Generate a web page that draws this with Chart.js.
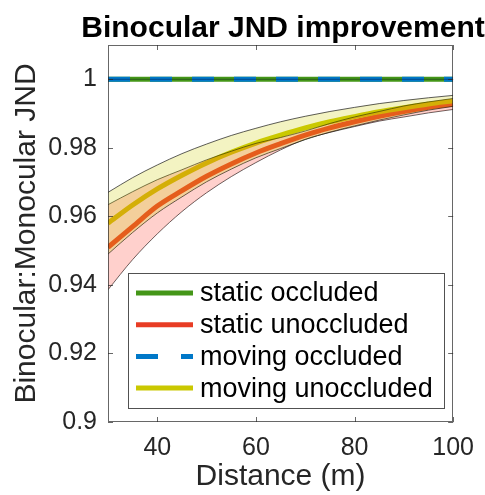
<!DOCTYPE html>
<html>
<head>
<meta charset="utf-8">
<script src="https://cdn.jsdelivr.net/npm/chart.js@4/dist/chart.umd.min.js"></script>
<style>
  html, body { margin: 0; padding: 0; background: #fff; }
  #wrap { width: 485px; height: 495px; }
</style>
</head>
<body>
<div id="wrap"><canvas id="c" width="485" height="495"></canvas></div>
<script>
// ---- data ----
const distances = [30, 35, 40, 45, 50, 55, 60, 65, 70, 75, 80, 85, 90, 95, 100];
const staticUnoccMean  = [0.951, 0.957, 0.963, 0.9675, 0.9717, 0.9753, 0.9785, 0.9812, 0.9837, 0.9858, 0.9876, 0.9892, 0.9906, 0.9918, 0.9928];
const staticUnoccLower = [0.9386, 0.9474, 0.9549, 0.9614, 0.9669, 0.9716, 0.9757, 0.9794, 0.9825, 0.9845, 0.9862, 0.9878, 0.989, 0.9902, 0.9912];
const staticUnoccUpper = [0.9634, 0.9672, 0.9707, 0.9736, 0.9765, 0.979, 0.9813, 0.983, 0.9849, 0.9871, 0.989, 0.9906, 0.9922, 0.9934, 0.9944];
const movingUnoccMean  = [0.958, 0.9633, 0.968, 0.972, 0.9756, 0.9787, 0.9814, 0.9837, 0.9858, 0.9876, 0.9891, 0.9905, 0.9917, 0.9928, 0.9937];
const movingUnoccLower = [0.949, 0.9553, 0.961, 0.9657, 0.9701, 0.9738, 0.9771, 0.9798, 0.9824, 0.9846, 0.9864, 0.9881, 0.9896, 0.991, 0.9921];
const movingUnoccUpper = [0.967, 0.9713, 0.975, 0.9783, 0.9811, 0.9836, 0.9857, 0.9876, 0.9892, 0.9906, 0.9918, 0.9929, 0.9938, 0.9946, 0.9953];
const staticOccluded   = [1, 1, 1, 1, 1, 1, 1, 1, 1, 1, 1, 1, 1, 1, 1];
const movingOccluded   = [1, 1, 1, 1, 1, 1, 1, 1, 1, 1, 1, 1, 1, 1, 1];
const seriesNames = ['static occluded', 'static unoccluded', 'moving occluded', 'moving unoccluded'];
const xTicks = [40, 60, 80, 100];
const yTicks = [0.9, 0.92, 0.94, 0.96, 0.98, 1];
const titleText = 'Binocular JND improvement';
const xTitle = 'Distance (m)';
const yTitle = 'Binocular:Monocular JND';

// ---- styles ----
const GREEN = 'rgb(68,150,24)';
const RED = 'rgb(232,60,36)';
const BLUE = 'rgb(0,120,200)';
const YELLOW = 'rgb(202,200,0)';
const TXT = '#262626';
const FONT = "'Liberation Sans', Arial, Helvetica, sans-serif";
const seriesColors = [GREEN, RED, BLUE, YELLOW];
const seriesDash = [[], [], [22, 23], []];

const pts = arr => distances.map((d, i) => ({x: d, y: arr[i]}));
const edge = {borderColor: 'rgba(0,0,0,0.8)', borderWidth: 0.8, pointRadius: 0, cubicInterpolationMode: 'monotone'};
const mainLine = {pointRadius: 0, borderWidth: 5, cubicInterpolationMode: 'monotone', fill: false};

const extras = {
  id: 'extras',
  afterDraw(chart) {
    const {ctx, chartArea: ca, scales} = chart;
    const xs = scales.x, ys = scales.y;
    ctx.save();
    // axes box
    ctx.strokeStyle = 'rgba(38,38,38,0.7)';
    ctx.lineWidth = 1;
    ctx.strokeRect(Math.round(ca.left) + 0.5, Math.round(ca.top) + 0.5,
                   Math.round(ca.right - ca.left) - 1, Math.round(ca.bottom - ca.top) - 1);
    // inward ticks
    const tl = 5;
    ctx.beginPath();
    xTicks.forEach(v => {
      const px = Math.round(xs.getPixelForValue(v)) + 0.5;
      ctx.moveTo(px, ca.bottom); ctx.lineTo(px, ca.bottom - tl);
      ctx.moveTo(px, ca.top); ctx.lineTo(px, ca.top + tl);
    });
    yTicks.forEach(v => {
      const py = Math.round(ys.getPixelForValue(v)) + 0.5;
      ctx.moveTo(ca.left, py); ctx.lineTo(ca.left + tl, py);
      ctx.moveTo(ca.right, py); ctx.lineTo(ca.right - tl, py);
    });
    ctx.stroke();

    // title
    ctx.fillStyle = '#000';
    ctx.font = "bold 30px " + FONT;
    ctx.textAlign = 'center';
    ctx.textBaseline = 'alphabetic';
    ctx.fillText(titleText, 283, 37);

    // legend
    const lx = ca.left + 20, ly = ca.top + 228, lw = 316, lh = 135;
    ctx.fillStyle = '#fff';
    ctx.fillRect(lx, ly, lw, lh);
    ctx.strokeStyle = 'rgba(38,38,38,0.8)';
    ctx.lineWidth = 1;
    ctx.strokeRect(Math.round(lx) + 0.5, Math.round(ly) + 0.5, lw, lh);
    ctx.font = "27px " + FONT;
    ctx.textAlign = 'left';
    ctx.textBaseline = 'middle';
    seriesNames.forEach((name, i) => {
      const cy = ly + 20 + i * 31.7;
      ctx.strokeStyle = seriesColors[i];
      ctx.lineWidth = 5;
      ctx.setLineDash(seriesDash[i]);
      ctx.beginPath();
      ctx.moveTo(lx + 8, cy); ctx.lineTo(lx + 65, cy);
      ctx.stroke();
      ctx.setLineDash([]);
      ctx.fillStyle = '#000';
      ctx.fillText(name, lx + 72, cy + 1);
    });
    ctx.restore();
  }
};

new Chart(document.getElementById('c'), {
  type: 'line',
  data: {
    datasets: [
      Object.assign({label: seriesNames[1], data: pts(staticUnoccMean), borderColor: RED, order: 7}, mainLine),
      Object.assign({label: seriesNames[3], data: pts(movingUnoccMean), borderColor: YELLOW, order: 6}, mainLine),
      Object.assign({label: 'static lower', data: pts(staticUnoccLower), order: 5, fill: false}, edge),
      Object.assign({label: 'static upper', data: pts(staticUnoccUpper), order: 4, fill: {target: 2}, backgroundColor: 'rgba(255,60,40,0.24)'}, edge),
      Object.assign({label: 'moving lower', data: pts(movingUnoccLower), order: 3, fill: false}, edge),
      Object.assign({label: 'moving upper', data: pts(movingUnoccUpper), order: 2, fill: {target: 4}, backgroundColor: 'rgba(205,205,0,0.24)'}, edge),
      Object.assign({label: seriesNames[0], data: pts(staticOccluded), borderColor: GREEN, order: 1}, mainLine),
      Object.assign({label: seriesNames[2], data: pts(movingOccluded), borderColor: BLUE, borderDash: [22, 20], order: 0}, mainLine),
      {label: 'edge', data: pts(movingOccluded), borderColor: 'rgba(0,0,40,0.5)', borderWidth: 0.8, pointRadius: 0, order: -1, fill: false}
    ]
  },
  options: {
    responsive: false,
    animation: false,
    devicePixelRatio: 1,
    layout: {padding: {top: 45, right: 30, left: 0, bottom: 0}},
    plugins: {legend: {display: false}, title: {display: false}, tooltip: {enabled: false}},
    scales: {
      x: {
        type: 'linear', min: 30, max: 100,
        grid: {display: false, drawTicks: false},
        border: {display: false},
        afterBuildTicks: s => { s.ticks = xTicks.map(v => ({value: v})); },
        afterFit: s => { s.height = 73; },
        ticks: {color: TXT, font: {family: FONT, size: 25}, padding: 11, maxRotation: 0, autoSkip: false},
        title: {display: true, text: xTitle, color: TXT, font: {family: FONT, size: 30}, padding: {top: 0, bottom: 0}}
      },
      y: {
        type: 'linear', min: 0.9, max: 1.01,
        grid: {display: false, drawTicks: false},
        border: {display: false},
        afterBuildTicks: s => { s.ticks = yTicks.map(v => ({value: v})); },
        afterFit: s => { s.width = 108; },
        ticks: {color: TXT, font: {family: FONT, size: 25}, padding: 11, autoSkip: false,
                callback: v => String(+Number(v).toFixed(2))},
        title: {display: true, text: yTitle, color: TXT, font: {family: FONT, size: 30}, padding: {top: 9, bottom: 0}}
      }
    }
  },
  plugins: [extras]
});
</script>
</body>
</html>
